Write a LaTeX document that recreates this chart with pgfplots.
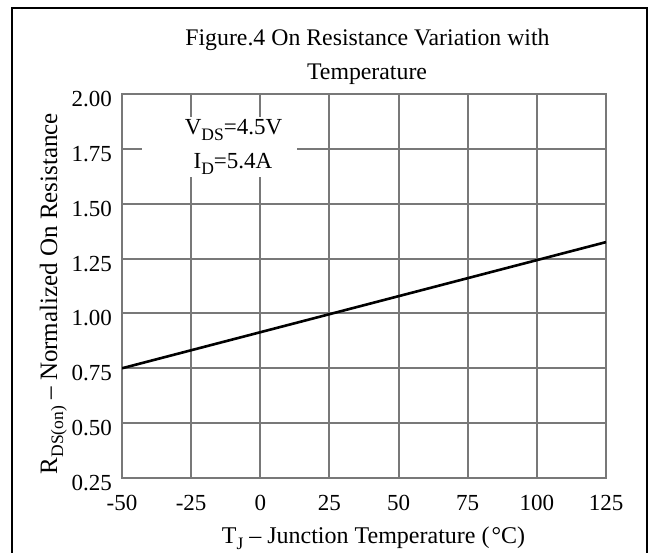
\documentclass[border=0pt]{standalone}
\usepackage{fontspec}
\setmainfont{Liberation Serif}
\usepackage{pgfplots}
\pgfplotsset{compat=1.18}
\definecolor{gridgray}{RGB}{120,120,120}
% subscript as in the datasheet: fairly large and clearly lowered
\newcommand{\sub}[1]{\raisebox{-0.24em}{\fontsize{17.5}{18}\selectfont #1}}

\begin{document}
\begin{tikzpicture}[font=\fontsize{23}{27}\selectfont]
\useasboundingbox (0,0) rectangle (654pt,553pt);
% outer frame (bottom edge cut off as in the source)
\draw[line width=2pt] (12pt,0pt) -- (12pt,545pt) -- (647pt,545pt) -- (647pt,0pt);
\begin{axis}[
  at={(122pt,75pt)}, anchor=south west,
  scale only axis, width=484pt, height=384pt,
  xmin=-50, xmax=125, ymin=0.25, ymax=2.00,
  xtick={-50,-25,0,25,50,75,100,125},
  ytick={0.25,0.5,0.75,1.0,1.25,1.5,1.75,2.0},
  grid=major,
  grid style={gridgray, line width=2pt},
  axis line style={gridgray, line width=2pt},
  major tick length=0pt,
  /pgf/number format/assume math mode=true,
  tick label style={font=\fontsize{23}{27}\selectfont},
  xticklabel style={anchor=base, yshift=-33pt, inner sep=0pt},
  yticklabel style={anchor=east, xshift=-10pt, yshift=-5pt, inner sep=0pt,
    /pgf/number format/.cd, fixed, fixed zerofill, precision=2},
]
\addplot[black, line width=2.6pt] coordinates {(-50,0.75) (125,1.325)};
\end{axis}
% label box
\fill[white] (142pt,376pt) rectangle (297pt,436pt);
\node[anchor=base] at (233.5pt,418pt) {V\sub{DS}=4.5V};
\node[anchor=base] at (233pt,384pt) {I\sub{D}=5.4A};
% titles and axis labels
\node[anchor=base, font=\fontsize{23.8}{28}\selectfont] at (367.5pt,507pt) {Figure.4 On Resistance Variation with};
\node[anchor=base, font=\fontsize{23.8}{28}\selectfont] at (367pt,473pt) {Temperature};
\node[anchor=base, font=\fontsize{24}{28}\selectfont] at (373.5pt,9pt) {T\sub{J} -- Junction Temperature (\kern2pt°C)};
\node[anchor=base, rotate=90, font=\fontsize{25}{29}\selectfont] at (57pt,259.5pt) {R\sub{DS(on)} -- Normalized On Resistance};
\end{tikzpicture}
\end{document}
